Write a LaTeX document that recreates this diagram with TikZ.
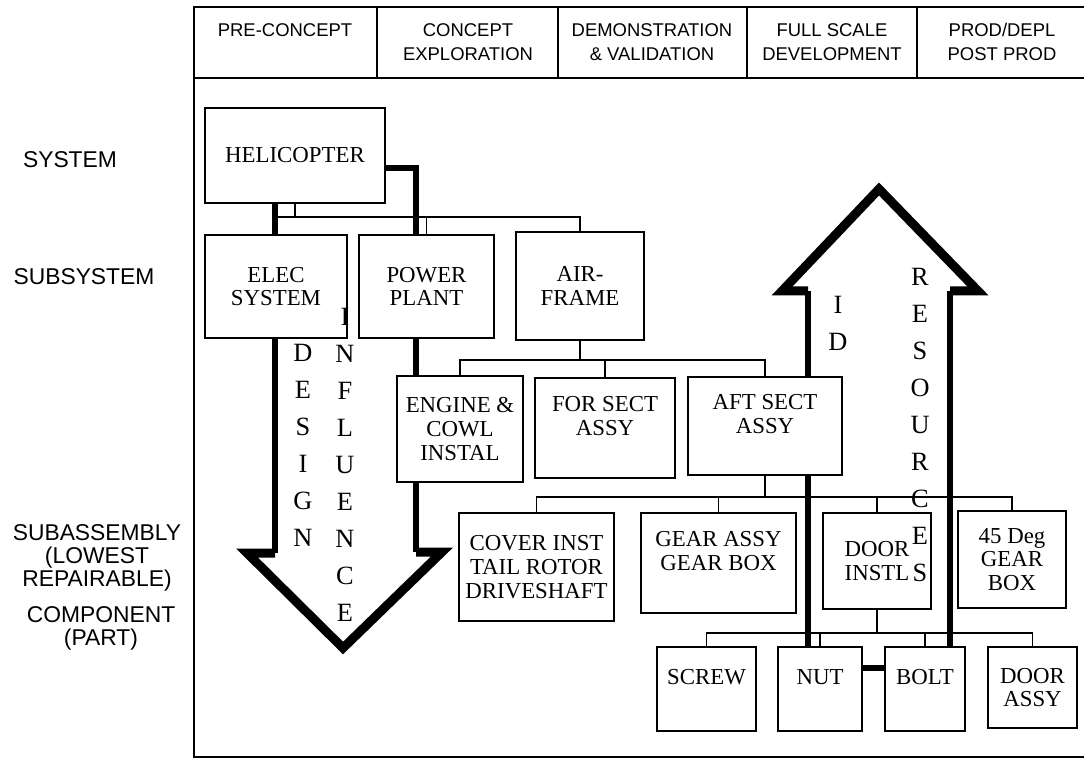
\documentclass[tikz,border=0pt]{standalone}
\usepackage{fontspec}
\setmainfont{Liberation Serif}
\setsansfont{Liberation Sans}
\usepackage{tikz}

\tikzset{
  unit/.style={draw, line width=1pt, align=center, inner sep=2pt, font=\fontsize{13}{13.5}\selectfont},
  phase/.style={align=center, font=\sffamily\fontsize{10.5}{14}\selectfont},
  level/.style={align=center, font=\sffamily\fontsize{13}{13}\selectfont},
  link/.style={line width=0.9pt},
  heavy/.style={line width=0.12cm},
  head/.style={line width=0.18cm, line join=miter},
  letter/.style={inner sep=0pt, font=\fontsize{15}{15}\selectfont},
}

\begin{document}
\begin{tikzpicture}[x=0.02cm, y=-0.02cm]
  \useasboundingbox (0,0) rectangle (1084,759);
  % frame and phases
  \draw[line width=1pt] (1084,7) -- (194,7) -- (194,757) -- (1084,757);
  \draw[line width=1pt] (194,78) -- (1084,78);
  \foreach \x in {377,558,747,917}
    \draw[line width=1pt] (\x,7) -- (\x,78);
  \node[phase] (pre) at (285,30) {PRE-CONCEPT};
  \node[phase] (cex) at (468,42) {CONCEPT\\EXPLORATION};
  \node[phase] (dem) at (652,42) {DEMONSTRATION\\\& VALIDATION};
  \node[phase] (fsd) at (832,42) {FULL SCALE\\DEVELOPMENT};
  \node[phase] (pdp) at (1002,42) {PROD/DEPL\\POST PROD};
  % levels
  \node[level] (sys) at (70,160) {SYSTEM};
  \node[level] (sub) at (84,277) {SUBSYSTEM};
  \node[level] (sas) at (97,558) {SUBASSEMBLY\\(LOWEST\\REPAIRABLE)};
  \node[level] (cmp) at (101,628) {COMPONENT\\(PART)};
  % boxes
  \node[unit, minimum width=3.6cm, minimum height=1.9cm] (heli) at (295,155.5) {HELICOPTER};
  \node[unit, minimum width=2.84cm, minimum height=2.06cm] (elec) at (276,286.5) {ELEC\\SYSTEM};
  \node[unit, minimum width=2.7cm, minimum height=2.06cm] (power) at (426.5,286.5) {POWER\\PLANT};
  \node[unit, minimum width=2.56cm, minimum height=2.16cm] (air) at (580,286) {AIR-\\FRAME};
  \node[unit, minimum width=2.52cm, minimum height=2.12cm] (engine) at (460,429) {ENGINE \&\\COWL\\INSTAL};
  \node[unit, minimum width=2.8cm, minimum height=2cm] (fwd) at (605,428) {FOR SECT\\ASSY\\\mbox{}};
  \node[unit, minimum width=3.08cm, minimum height=1.96cm] (aft) at (765,426) {AFT SECT\\ASSY\\\mbox{}};
  \node[unit, minimum width=3.1cm, minimum height=2.16cm] (cover) at (536.5,567) {COVER INST\\TAIL ROTOR\\DRIVESHAFT};
  \node[unit, minimum width=3.1cm, minimum height=2cm] (gear) at (718.5,563) {GEAR ASSY\\GEAR BOX\\\mbox{}};
  \node[unit, minimum width=2.16cm, minimum height=1.92cm] (doori) at (877,561) {DOOR\\INSTL};
  \node[unit, minimum width=2.16cm, minimum height=1.94cm] (deg) at (1012,559.5) {45 Deg\\GEAR\\BOX};
  \node[unit, minimum width=1.98cm, minimum height=1.68cm] (screw) at (706.5,689) {SCREW\\\mbox{}};
  \node[unit, minimum width=1.68cm, minimum height=1.68cm] (nut) at (820,689) {NUT\\\mbox{}};
  \node[unit, minimum width=1.6cm, minimum height=1.68cm] (bolt) at (925,689) {BOLT\\\mbox{}};
  \node[unit, minimum width=1.78cm, minimum height=1.62cm] (dass) at (1032.5,687.5) {DOOR\\ASSY};
  % bus lines
  \coordinate (hbus) at (0,217);
  \coordinate (abus) at (0,360);
  \coordinate (sbus) at (0,497);
  \coordinate (cbus) at (0,633);
  \draw[link] (heli.south) -- (heli.south |- hbus);
  \draw[link] (elec.north |- hbus) -- (air.north |- hbus) -- (air.north);
  \draw[link] (power.north |- hbus) -- (power.north);
  \draw[link] (air.south) -- (air.south |- abus);
  \draw[link] (engine.north) -- (engine.north |- abus) -- (aft.north |- abus) -- (aft.north);
  \draw[link] (fwd.north |- abus) -- (fwd.north);
  \draw[link] (aft.south) -- (aft.south |- sbus);
  \draw[link] (cover.north) -- (cover.north |- sbus) -- (deg.north |- sbus) -- (deg.north);
  \draw[link] (gear.north |- sbus) -- (gear.north);
  \draw[link] (doori.north |- sbus) -- (doori.north);
  \draw[link] (doori.south) -- (doori.south |- cbus);
  \draw[link] (screw.north) -- (screw.north |- cbus) -- (dass.north |- cbus) -- (dass.north);
  \draw[link] (nut.north |- cbus) -- (nut.north);
  \draw[link] (bolt.north |- cbus) -- (bolt.north);
  % design influence arrow
  \coordinate (dl) at (275,0);
  \coordinate (dr) at (416,0);
  \coordinate (dlsh) at (275,553);
  \coordinate (drsh) at (416,552);
  \coordinate (dtip) at (343,648);
  \draw[heavy] (heli.south -| dl) -- (elec.north -| dl);
  \draw[heavy] (elec.south -| dl) -- (dlsh);
  \draw[heavy] (heli.east |- 0,168) -| (power.north -| dr);
  \draw[heavy] (power.south -| dr) -- (engine.north -| dr);
  \draw[heavy] (engine.south -| dr) -- (drsh);
  \draw[head] (dlsh) -- (247,553) -- (dtip) -- (442,552) -- (drsh);
  % id resources arrow
  \coordinate (ul) at (808,0);
  \coordinate (ur) at (950,0);
  \coordinate (ulsh) at (808,291);
  \coordinate (ursh) at (950,291);
  \coordinate (utip) at (879,189);
  \draw[heavy] (aft.north -| ul) -- (ulsh);
  \draw[heavy] (aft.south -| ul) -- (nut.north -| ul);
  \draw[heavy] (bolt.north -| ur) -- (ursh);
  \draw[head] (ulsh) -- (782,291) -- (utip) -- (978,291) -- (ursh);
  \draw[heavy] (nut.east |- 0,668) -- (bolt.west |- 0,668);
  % arrow letters
  \foreach \c [count=\i] in {D,E,S,I,G,N}
    \node[letter] (dsg\i) at (303,316+37*\i) {\c};
  \foreach \c [count=\i] in {I,N,F,L,U,E,N,C,E}
    \node[letter] (inf\i) at (345,280+37*\i) {\c};
  \foreach \c [count=\i] in {I,D}
    \node[letter] (idl\i) at (838,268+37*\i) {\c};
  \foreach \c [count=\i] in {R,E,S,O,U,R,C,E,S}
    \node[letter] (res\i) at (920,240+37*\i) {\c};
\end{tikzpicture}
\end{document}
